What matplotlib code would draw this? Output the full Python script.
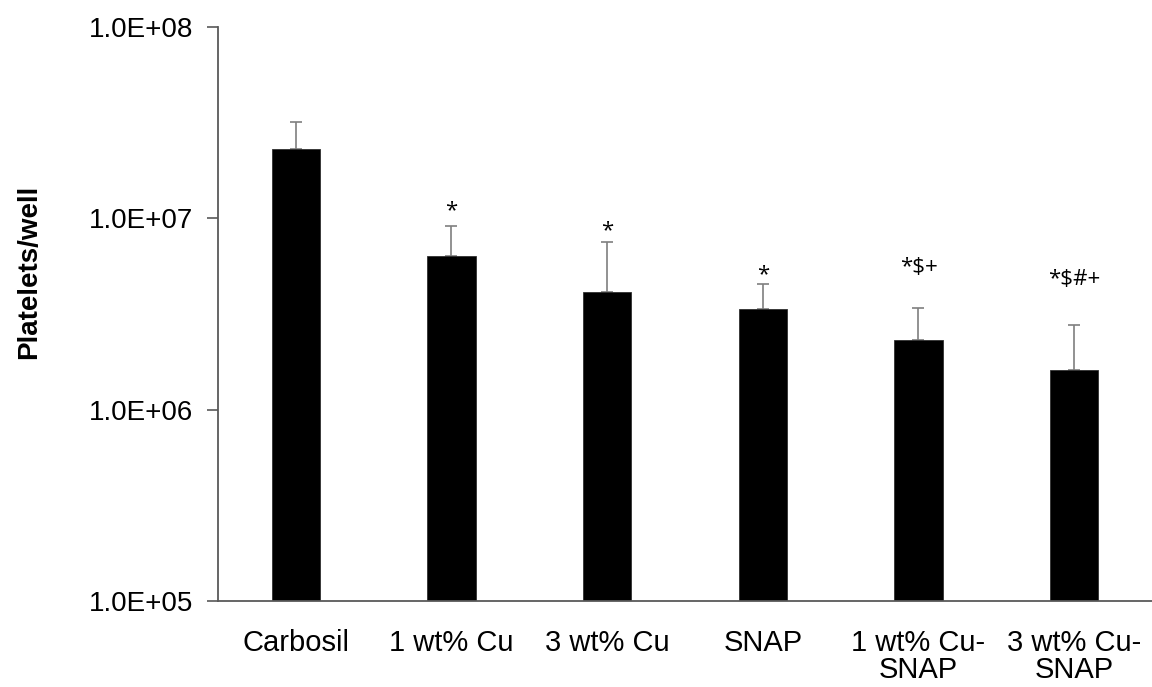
import numpy as np
import matplotlib
matplotlib.use("Agg")
import matplotlib.pyplot as plt

# values (log scale)
groups = ["Carbosil", "1 wt% Cu", "3 wt% Cu", "SNAP", "1 wt% Cu-\nSNAP", "3 wt% Cu-\nSNAP"]
means = [2.29e7, 6.32e6, 4.12e6, 3.37e6, 2.31e6, 1.61e6]
upper = [3.18e7, 9.07e6, 7.52e6, 4.53e6, 3.40e6, 2.77e6]
marks = ["", "*", "*", "*", "*$+", "*$#+"]
mark_off = [0, 11, 8, 7, 29, 33]   # points above error cap

plt.rcParams['font.family'] = ['Liberation Sans', 'DejaVu Sans']

fig = plt.figure(figsize=(11.52, 6.87), dpi=100)
ax = fig.add_axes([0.1892, 0.1252, 0.8108, 0.8355])

x = np.arange(len(groups))
err = np.array(upper) - np.array(means)
ax.bar(x, means, width=0.31, color='black', edgecolor='#303030', linewidth=0.6, zorder=2)
ax.errorbar(x, means, yerr=[np.zeros(len(x)), err], fmt='none', ecolor='#7f7f7f',
            elinewidth=1.2, capsize=4.5, capthick=1.2, zorder=1)

for i in range(len(x)):
    if marks[i]:
        ax.annotate(marks[i], (x[i], upper[i]), xytext=(0, mark_off[i]),
                    textcoords='offset points', ha='center', va='center',
                    fontsize=16, family=['Open Sans', 'DejaVu Sans'])

ax.set_yscale('log')
ax.set_ylim(1e5, 1e8)
ax.set_xlim(-0.5, 5.5)
ax.set_yticks([1e5, 1e6, 1e7, 1e8])
ax.set_yticklabels(["1.0E+05", "1.0E+06", "1.0E+07", "1.0E+08"])
ax.yaxis.set_minor_locator(matplotlib.ticker.NullLocator())
ax.set_xticks(x)
ax.set_xticklabels(groups, fontsize=21, linespacing=0.95)

ax.tick_params(axis='y', direction='out', length=8, width=1.2, color='#595959',
               labelsize=20, pad=10)
ax.tick_params(axis='x', length=0, pad=20)

for s in ['top', 'right']:
    ax.spines[s].set_visible(False)
for s in ['left', 'bottom']:
    ax.spines[s].set_color('#595959')
    ax.spines[s].set_linewidth(1.3)

ax.set_ylabel("Platelets/well", fontsize=20, fontweight='bold')
ax.yaxis.set_label_coords(-0.188, 0.573)

fig.savefig("out.png", dpi=100)
